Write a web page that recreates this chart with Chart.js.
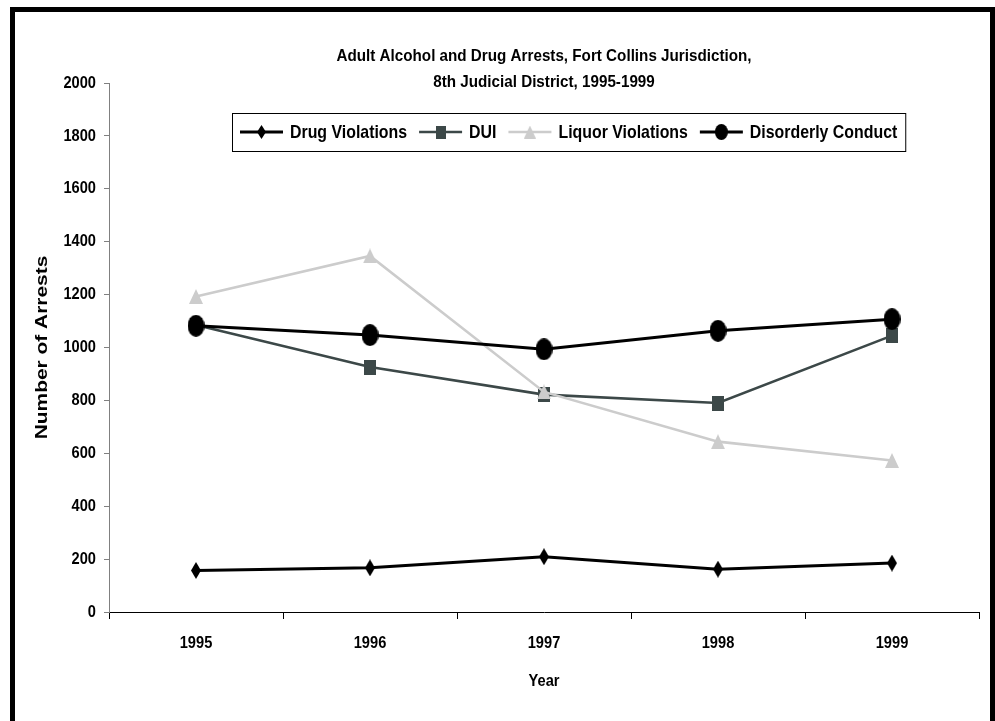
<!DOCTYPE html>
<html><head><meta charset="utf-8">
<script src="https://cdn.jsdelivr.net/npm/chart.js@4.4.1/dist/chart.umd.min.js"></script>
<style>
html,body{margin:0;padding:0;background:#fff;width:995px;height:721px;overflow:hidden;}
#wrap{position:relative;width:995px;height:721px;}
#frame{position:absolute;left:10px;top:7px;width:985px;height:740px;border-left:5px solid #000;border-top:5px solid #000;border-right:5px solid #000;box-sizing:border-box;pointer-events:none;}
canvas{position:absolute;left:0;top:0;}
</style></head><body>
<div id="wrap"><canvas id="c" width="995" height="721"></canvas><div id="frame"></div></div>
<script>
const years = ['1995', '1996', '1997', '1998', '1999'];
const drugViolations = [157, 167, 209, 162, 185];
const dui = [1085, 926, 822, 790, 1045];
const liquorViolations = [1193, 1346, 832, 644, 573];
const disorderlyConduct = [1082, 1047, 993, 1063, 1107];
const seriesNames = ['Drug Violations', 'DUI', 'Liquor Violations', 'Disorderly Conduct'];
const titleLines = ['Adult Alcohol and Drug Arrests, Fort Collins Jurisdiction,', '8th Judicial District, 1995-1999'];
const yAxisTitle = 'Number of Arrests';
const xAxisTitle = 'Year';

const FONT = "'Liberation Sans',Arial,sans-serif";
const C_DUI = '#3c4848';
const C_LIQ = '#cccccc';

function mk(w, h, color, shape) {
  const c = document.createElement('canvas');
  c.width = w; c.height = h;
  const x = c.getContext('2d');
  x.fillStyle = color;
  x.beginPath();
  if (shape === 'diamond') { x.moveTo(w/2, 0); x.lineTo(w, h/2); x.lineTo(w/2, h); x.lineTo(0, h/2); }
  else if (shape === 'rect') { x.rect(0, 0, w, h); }
  else if (shape === 'tri') { x.moveTo(w/2, 0); x.lineTo(w, h); x.lineTo(0, h); }
  else { x.ellipse(w/2, h/2, w/2, h/2, 0, 0, Math.PI*2); }
  x.closePath(); x.fill();
  return c;
}
const pts = [mk(10,17,'#000','diamond'), mk(12,15,C_DUI,'rect'), mk(14,15,C_LIQ,'tri'), mk(17,22,'#000','ellipse')];
const lgPts = [mk(9,14,'#000','diamond'), mk(10,13,C_DUI,'rect'), mk(12,13,C_LIQ,'tri'), mk(13,16,'#000','ellipse')];
const colors = ['#000', C_DUI, C_LIQ, '#000'];
const widths = [3, 2.6, 2.6, 3];

// condensed text helper (emulates a narrow bold face)
function ntext(ctx, txt, x, y, size, sx, align, rot) {
  ctx.save();
  ctx.translate(x, y);
  if (rot) ctx.rotate(rot);
  ctx.scale(sx, 1);
  ctx.font = 'bold ' + size + 'px ' + FONT;
  ctx.fillStyle = '#000';
  ctx.textAlign = align || 'center';
  ctx.textBaseline = 'middle';
  ctx.fillText(txt, 0, 0);
  ctx.restore();
}
function nwidth(ctx, txt, size, sx) {
  ctx.save(); ctx.font = 'bold ' + size + 'px ' + FONT;
  const w = ctx.measureText(txt).width * sx; ctx.restore(); return w;
}

const textPlugin = {
  id: 'textAndLegend',
  afterDatasetsDraw(chart) {
    const ctx = chart.ctx, a = chart.chartArea;
    const xs = chart.scales.x, ys = chart.scales.y;
    const cx = (a.left + a.right) / 2;
    // title
    ntext(ctx, titleLines[0], cx, a.top - 27, 17, 0.895);
    ntext(ctx, titleLines[1], cx, a.top - 1, 17, 0.895);
    // tick labels
    ys.ticks.forEach(t => ntext(ctx, String(t.value), a.left - 13, ys.getPixelForValue(t.value), 17, 0.86, 'right'));
    xs.ticks.forEach((t, i) => ntext(ctx, xs.getLabelForValue(t.value), xs.getPixelForTick(i), a.bottom + 31, 17, 0.86));
    // axis titles
    ntext(ctx, xAxisTitle, cx, a.bottom + 69, 17, 0.86);
    ntext(ctx, yAxisTitle, a.left - 67, (a.top + a.bottom) / 2, 17, 1.23, 'center', -Math.PI / 2);
    // legend
    const LS = 19, LX = 0.836;
    const bx = a.left + 123, by = a.top + 30, bh = 38;
    let x = bx + 8;
    const items = [];
    seriesNames.forEach((n, i) => { items.push({x, i, n}); x += 50 + nwidth(ctx, n, LS, LX) + 12; });
    const bw = x - 12 + 8 - bx;
    ctx.save();
    ctx.fillStyle = '#fff';
    ctx.fillRect(bx, by, bw, bh);
    ctx.strokeStyle = '#000'; ctx.lineWidth = 1;
    ctx.strokeRect(bx + 0.5, by + 0.5, bw, bh);
    const my = by + bh / 2;
    items.forEach(it => {
      ctx.strokeStyle = colors[it.i]; ctx.lineWidth = widths[it.i];
      ctx.beginPath(); ctx.moveTo(it.x, my); ctx.lineTo(it.x + 43, my); ctx.stroke();
      const im = lgPts[it.i];
      ctx.drawImage(im, it.x + 21.5 - im.width/2, my - im.height/2);
    });
    ctx.restore();
    items.forEach(it => ntext(ctx, it.n, it.x + 50, my + 1, LS, LX, 'left'));
  }
};

const seriesData = [drugViolations, dui, liquorViolations, disorderlyConduct];
new Chart(document.getElementById('c'), {
  type: 'line',
  data: {
    labels: years,
    datasets: seriesData.map((d, i) => ({
      label: seriesNames[i], data: d, borderColor: colors[i], backgroundColor: colors[i],
      borderWidth: widths[i], pointStyle: pts[i], pointRadius: 8, tension: 0, fill: false,
      order: 3 - i
    }))
  },
  options: {
    responsive: false, animation: false, devicePixelRatio: 1,
    layout: { padding: { left: 20, right: 16, top: 83, bottom: 19 } },
    plugins: { legend: { display: false }, title: { display: false }, tooltip: { enabled: false } },
    scales: {
      x: {
        offset: true,
        ticks: { color: 'rgba(0,0,0,0)', font: { family: FONT, size: 14, weight: 'bold' }, padding: 14, maxRotation: 0 },
        grid: { offset: true, drawOnChartArea: false, tickLength: 7, color: '#000' },
        border: { color: '#000', width: 1 },
        afterFit(s) { s.height = 90; }
      },
      y: {
        min: 0, max: 2000,
        ticks: { stepSize: 200, color: 'rgba(0,0,0,0)', font: { family: FONT, size: 14, weight: 'bold' }, padding: 8 },
        grid: { drawOnChartArea: false, tickLength: 5, color: '#808080' },
        border: { color: '#808080', width: 1 },
        afterFit(s) { s.width = 89; }
      }
    }
  },
  plugins: [textPlugin]
});
</script>
</body></html>
